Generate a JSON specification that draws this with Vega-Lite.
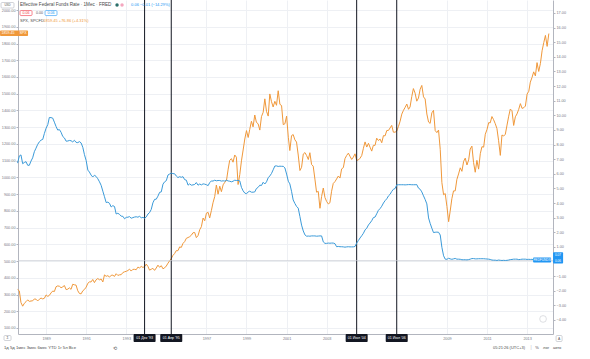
{
"$schema":"https://vega.github.io/schema/vega-lite/v6.json",
"width":535,"height":334,
"autosize":"none",
"padding":{"left":18,"top":0,"right":37,"bottom":25},
"background":"#ffffff",
"config":{"view":{"stroke":null},"text":{"font":"Liberation Sans"},
"axis":{"labelFont":"Liberation Sans","labelColor":"#787b86","domainColor":"#b2b5be","tickColor":"#b2b5be","gridColor":"#eef0f4"}},
"datasets":{
"m":[
{"d":"1987-08-01","f":6.73,"s":329.8},{"d":"1987-09-01","f":7.22,"s":321.8},{"d":"1987-10-01","f":7.29,"s":251.8},{"d":"1987-11-01","f":6.69,"s":230.3},{"d":"1987-12-01","f":6.77,"s":247.1},
{"d":"1988-01-01","f":6.83,"s":257.1},{"d":"1988-02-01","f":6.58,"s":267.8},{"d":"1988-03-01","f":6.58,"s":258.9},{"d":"1988-04-01","f":6.87,"s":261.3},{"d":"1988-05-01","f":7.09,"s":262.2},{"d":"1988-06-01","f":7.51,"s":273.5},{"d":"1988-07-01","f":7.75,"s":272.0},{"d":"1988-08-01","f":8.01,"s":261.5},{"d":"1988-09-01","f":8.19,"s":271.9},{"d":"1988-10-01","f":8.30,"s":278.9},{"d":"1988-11-01","f":8.35,"s":273.7},{"d":"1988-12-01","f":8.76,"s":277.7},
{"d":"1989-01-01","f":9.12,"s":297.5},{"d":"1989-02-01","f":9.36,"s":288.9},{"d":"1989-03-01","f":9.85,"s":294.9},{"d":"1989-04-01","f":9.84,"s":309.6},{"d":"1989-05-01","f":9.81,"s":320.5},{"d":"1989-06-01","f":9.53,"s":317.9},{"d":"1989-07-01","f":9.24,"s":346.1},{"d":"1989-08-01","f":8.99,"s":351.5},{"d":"1989-09-01","f":9.02,"s":349.2},{"d":"1989-10-01","f":8.84,"s":340.4},{"d":"1989-11-01","f":8.55,"s":346.0},{"d":"1989-12-01","f":8.45,"s":353.4},
{"d":"1990-01-01","f":8.23,"s":329.1},{"d":"1990-02-01","f":8.24,"s":331.9},{"d":"1990-03-01","f":8.28,"s":339.9},{"d":"1990-04-01","f":8.26,"s":330.8},{"d":"1990-05-01","f":8.18,"s":361.2},{"d":"1990-06-01","f":8.29,"s":358.0},{"d":"1990-07-01","f":8.15,"s":356.2},{"d":"1990-08-01","f":8.13,"s":322.6},{"d":"1990-09-01","f":8.20,"s":306.1},{"d":"1990-10-01","f":8.11,"s":304.0},{"d":"1990-11-01","f":7.81,"s":322.2},{"d":"1990-12-01","f":7.31,"s":330.2},
{"d":"1991-01-01","f":6.91,"s":343.9},{"d":"1991-02-01","f":6.25,"s":367.1},{"d":"1991-03-01","f":6.12,"s":375.2},{"d":"1991-04-01","f":5.91,"s":375.3},{"d":"1991-05-01","f":5.78,"s":389.8},{"d":"1991-06-01","f":5.90,"s":371.2},{"d":"1991-07-01","f":5.82,"s":387.8},{"d":"1991-08-01","f":5.66,"s":395.4},{"d":"1991-09-01","f":5.45,"s":387.9},{"d":"1991-10-01","f":5.21,"s":392.5},{"d":"1991-11-01","f":4.81,"s":375.2},{"d":"1991-12-01","f":4.43,"s":417.1},
{"d":"1992-01-01","f":4.03,"s":408.8},{"d":"1992-02-01","f":4.06,"s":412.7},{"d":"1992-03-01","f":3.98,"s":403.7},{"d":"1992-04-01","f":3.73,"s":414.9},{"d":"1992-05-01","f":3.82,"s":415.4},{"d":"1992-06-01","f":3.76,"s":408.1},{"d":"1992-07-01","f":3.25,"s":424.2},{"d":"1992-08-01","f":3.30,"s":414.0},{"d":"1992-09-01","f":3.22,"s":417.8},{"d":"1992-10-01","f":3.10,"s":418.7},{"d":"1992-11-01","f":3.09,"s":431.4},{"d":"1992-12-01","f":2.92,"s":435.7},
{"d":"1993-01-01","f":3.02,"s":438.8},{"d":"1993-02-01","f":3.03,"s":443.4},{"d":"1993-03-01","f":3.07,"s":451.7},{"d":"1993-04-01","f":2.96,"s":440.2},{"d":"1993-05-01","f":3.00,"s":450.2},{"d":"1993-06-01","f":3.04,"s":450.5},{"d":"1993-07-01","f":3.06,"s":448.1},{"d":"1993-08-01","f":3.03,"s":463.6},{"d":"1993-09-01","f":3.09,"s":458.9},{"d":"1993-10-01","f":2.99,"s":467.8},{"d":"1993-11-01","f":3.02,"s":461.8},{"d":"1993-12-01","f":2.96,"s":466.5},
{"d":"1994-01-01","f":3.05,"s":481.6},{"d":"1994-02-01","f":3.25,"s":467.1},{"d":"1994-03-01","f":3.34,"s":445.8},{"d":"1994-04-01","f":3.56,"s":450.9},{"d":"1994-05-01","f":4.01,"s":456.5},{"d":"1994-06-01","f":4.25,"s":444.3},{"d":"1994-07-01","f":4.26,"s":458.3},{"d":"1994-08-01","f":4.47,"s":475.5},{"d":"1994-09-01","f":4.73,"s":462.7},{"d":"1994-10-01","f":4.76,"s":472.4},{"d":"1994-11-01","f":5.29,"s":453.7},{"d":"1994-12-01","f":5.45,"s":459.3},
{"d":"1995-01-01","f":5.53,"s":470.4},{"d":"1995-02-01","f":5.92,"s":487.4},{"d":"1995-03-01","f":5.98,"s":500.7},{"d":"1995-04-01","f":6.05,"s":514.7},{"d":"1995-05-01","f":6.01,"s":533.4},{"d":"1995-06-01","f":6.00,"s":544.8},{"d":"1995-07-01","f":5.85,"s":562.1},{"d":"1995-08-01","f":5.74,"s":561.9},{"d":"1995-09-01","f":5.80,"s":584.4},{"d":"1995-10-01","f":5.76,"s":581.5},{"d":"1995-11-01","f":5.80,"s":605.4},{"d":"1995-12-01","f":5.60,"s":615.9},
{"d":"1996-01-01","f":5.56,"s":636.0},{"d":"1996-02-01","f":5.22,"s":640.4},{"d":"1996-03-01","f":5.31,"s":645.5},{"d":"1996-04-01","f":5.22,"s":654.2},{"d":"1996-05-01","f":5.24,"s":669.1},{"d":"1996-06-01","f":5.27,"s":670.6},{"d":"1996-07-01","f":5.40,"s":639.9},{"d":"1996-08-01","f":5.22,"s":652.0},{"d":"1996-09-01","f":5.30,"s":687.3},{"d":"1996-10-01","f":5.24,"s":705.3},{"d":"1996-11-01","f":5.31,"s":757.0},{"d":"1996-12-01","f":5.29,"s":740.7},
{"d":"1997-01-01","f":5.25,"s":786.2},{"d":"1997-02-01","f":5.19,"s":790.8},{"d":"1997-03-01","f":5.39,"s":757.1},{"d":"1997-04-01","f":5.51,"s":801.3},{"d":"1997-05-01","f":5.50,"s":848.3},{"d":"1997-06-01","f":5.56,"s":885.1},{"d":"1997-07-01","f":5.52,"s":954.3},{"d":"1997-08-01","f":5.54,"s":899.5},{"d":"1997-09-01","f":5.54,"s":947.3},{"d":"1997-10-01","f":5.50,"s":914.6},{"d":"1997-11-01","f":5.52,"s":955.4},{"d":"1997-12-01","f":5.50,"s":970.4},
{"d":"1998-01-01","f":5.56,"s":980.3},{"d":"1998-02-01","f":5.51,"s":1049.3},{"d":"1998-03-01","f":5.49,"s":1101.8},{"d":"1998-04-01","f":5.45,"s":1111.8},{"d":"1998-05-01","f":5.49,"s":1090.8},{"d":"1998-06-01","f":5.56,"s":1133.8},{"d":"1998-07-01","f":5.54,"s":1120.7},{"d":"1998-08-01","f":5.55,"s":957.3},{"d":"1998-09-01","f":5.51,"s":1017.0},{"d":"1998-10-01","f":5.07,"s":1098.7},{"d":"1998-11-01","f":4.83,"s":1163.6},{"d":"1998-12-01","f":4.68,"s":1229.2},
{"d":"1999-01-01","f":4.63,"s":1279.6},{"d":"1999-02-01","f":4.76,"s":1238.3},{"d":"1999-03-01","f":4.81,"s":1286.4},{"d":"1999-04-01","f":4.74,"s":1335.2},{"d":"1999-05-01","f":4.74,"s":1301.8},{"d":"1999-06-01","f":4.76,"s":1372.7},{"d":"1999-07-01","f":4.99,"s":1328.7},{"d":"1999-08-01","f":5.07,"s":1320.4},{"d":"1999-09-01","f":5.22,"s":1282.7},{"d":"1999-10-01","f":5.20,"s":1362.9},{"d":"1999-11-01","f":5.42,"s":1388.9},{"d":"1999-12-01","f":5.30,"s":1469.3},
{"d":"2000-01-01","f":5.45,"s":1394.5},{"d":"2000-02-01","f":5.73,"s":1366.4},{"d":"2000-03-01","f":5.85,"s":1498.6},{"d":"2000-04-01","f":6.02,"s":1452.4},{"d":"2000-05-01","f":6.27,"s":1420.6},{"d":"2000-06-01","f":6.53,"s":1454.6},{"d":"2000-07-01","f":6.54,"s":1430.8},{"d":"2000-08-01","f":6.50,"s":1517.7},{"d":"2000-09-01","f":6.52,"s":1436.5},{"d":"2000-10-01","f":6.51,"s":1429.4},{"d":"2000-11-01","f":6.51,"s":1315.2},{"d":"2000-12-01","f":6.40,"s":1320.3},
{"d":"2001-01-01","f":5.98,"s":1366.0},{"d":"2001-02-01","f":5.49,"s":1239.9},{"d":"2001-03-01","f":5.31,"s":1160.3},{"d":"2001-04-01","f":4.80,"s":1249.5},{"d":"2001-05-01","f":4.21,"s":1255.8},{"d":"2001-06-01","f":3.97,"s":1224.4},{"d":"2001-07-01","f":3.77,"s":1211.2},{"d":"2001-08-01","f":3.65,"s":1133.6},{"d":"2001-09-01","f":3.07,"s":1040.9},{"d":"2001-10-01","f":2.49,"s":1059.8},{"d":"2001-11-01","f":2.09,"s":1139.5},{"d":"2001-12-01","f":1.82,"s":1148.1},
{"d":"2002-01-01","f":1.73,"s":1130.2},{"d":"2002-02-01","f":1.74,"s":1106.7},{"d":"2002-03-01","f":1.73,"s":1147.4},{"d":"2002-04-01","f":1.75,"s":1076.9},{"d":"2002-05-01","f":1.75,"s":1067.1},{"d":"2002-06-01","f":1.75,"s":989.8},{"d":"2002-07-01","f":1.73,"s":911.6},{"d":"2002-08-01","f":1.74,"s":916.1},{"d":"2002-09-01","f":1.75,"s":815.3},{"d":"2002-10-01","f":1.75,"s":885.8},{"d":"2002-11-01","f":1.34,"s":936.3},{"d":"2002-12-01","f":1.24,"s":879.8},
{"d":"2003-01-01","f":1.24,"s":855.7},{"d":"2003-02-01","f":1.26,"s":841.2},{"d":"2003-03-01","f":1.25,"s":848.2},{"d":"2003-04-01","f":1.26,"s":916.9},{"d":"2003-05-01","f":1.26,"s":963.6},{"d":"2003-06-01","f":1.22,"s":974.5},{"d":"2003-07-01","f":1.01,"s":990.3},{"d":"2003-08-01","f":1.03,"s":1008.0},{"d":"2003-09-01","f":1.01,"s":996.0},{"d":"2003-10-01","f":1.01,"s":1050.7},{"d":"2003-11-01","f":1.00,"s":1058.2},{"d":"2003-12-01","f":0.98,"s":1111.9},
{"d":"2004-01-01","f":1.00,"s":1131.1},{"d":"2004-02-01","f":1.01,"s":1144.9},{"d":"2004-03-01","f":1.00,"s":1126.2},{"d":"2004-04-01","f":1.00,"s":1107.3},{"d":"2004-05-01","f":1.00,"s":1120.7},{"d":"2004-06-01","f":1.03,"s":1140.8},{"d":"2004-07-01","f":1.26,"s":1101.7},{"d":"2004-08-01","f":1.43,"s":1104.2},{"d":"2004-09-01","f":1.61,"s":1114.6},{"d":"2004-10-01","f":1.76,"s":1130.2},{"d":"2004-11-01","f":1.93,"s":1173.8},{"d":"2004-12-01","f":2.16,"s":1211.9},
{"d":"2005-01-01","f":2.28,"s":1181.3},{"d":"2005-02-01","f":2.50,"s":1203.6},{"d":"2005-03-01","f":2.63,"s":1180.6},{"d":"2005-04-01","f":2.79,"s":1156.9},{"d":"2005-05-01","f":3.00,"s":1191.5},{"d":"2005-06-01","f":3.04,"s":1191.3},{"d":"2005-07-01","f":3.26,"s":1234.2},{"d":"2005-08-01","f":3.50,"s":1220.3},{"d":"2005-09-01","f":3.62,"s":1228.8},{"d":"2005-10-01","f":3.78,"s":1207.0},{"d":"2005-11-01","f":4.00,"s":1249.5},{"d":"2005-12-01","f":4.16,"s":1248.3},
{"d":"2006-01-01","f":4.29,"s":1280.1},{"d":"2006-02-01","f":4.49,"s":1280.7},{"d":"2006-03-01","f":4.59,"s":1294.9},{"d":"2006-04-01","f":4.79,"s":1310.6},{"d":"2006-05-01","f":4.94,"s":1270.1},{"d":"2006-06-01","f":4.99,"s":1270.2},{"d":"2006-07-01","f":5.24,"s":1276.7},{"d":"2006-08-01","f":5.25,"s":1303.8},{"d":"2006-09-01","f":5.25,"s":1335.9},{"d":"2006-10-01","f":5.25,"s":1377.9},{"d":"2006-11-01","f":5.25,"s":1400.6},{"d":"2006-12-01","f":5.24,"s":1418.3},
{"d":"2007-01-01","f":5.25,"s":1438.2},{"d":"2007-02-01","f":5.26,"s":1406.8},{"d":"2007-03-01","f":5.26,"s":1420.9},{"d":"2007-04-01","f":5.25,"s":1482.4},{"d":"2007-05-01","f":5.25,"s":1530.6},{"d":"2007-06-01","f":5.25,"s":1503.4},{"d":"2007-07-01","f":5.26,"s":1455.3},{"d":"2007-08-01","f":5.02,"s":1474.0},{"d":"2007-09-01","f":4.94,"s":1526.8},{"d":"2007-10-01","f":4.76,"s":1549.4},{"d":"2007-11-01","f":4.49,"s":1481.1},{"d":"2007-12-01","f":4.24,"s":1468.4},
{"d":"2008-01-01","f":3.94,"s":1378.6},{"d":"2008-02-01","f":2.98,"s":1330.6},{"d":"2008-03-01","f":2.61,"s":1322.7},{"d":"2008-04-01","f":2.28,"s":1385.6},{"d":"2008-05-01","f":1.98,"s":1400.4},{"d":"2008-06-01","f":2.00,"s":1280.0},{"d":"2008-07-01","f":2.01,"s":1267.4},{"d":"2008-08-01","f":2.00,"s":1282.8},{"d":"2008-09-01","f":1.81,"s":1166.4},{"d":"2008-10-01","f":0.97,"s":968.8},{"d":"2008-11-01","f":0.39,"s":896.2},{"d":"2008-12-01","f":0.16,"s":903.3},
{"d":"2009-01-01","f":0.15,"s":825.9},{"d":"2009-02-01","f":0.22,"s":735.1},{"d":"2009-03-01","f":0.18,"s":797.9},{"d":"2009-04-01","f":0.15,"s":872.8},{"d":"2009-05-01","f":0.18,"s":919.1},{"d":"2009-06-01","f":0.21,"s":919.3},{"d":"2009-07-01","f":0.16,"s":987.5},{"d":"2009-08-01","f":0.16,"s":1020.6},{"d":"2009-09-01","f":0.15,"s":1057.1},{"d":"2009-10-01","f":0.12,"s":1036.2},{"d":"2009-11-01","f":0.12,"s":1095.6},{"d":"2009-12-01","f":0.12,"s":1115.1},
{"d":"2010-01-01","f":0.11,"s":1073.9},{"d":"2010-02-01","f":0.13,"s":1104.5},{"d":"2010-03-01","f":0.16,"s":1169.4},{"d":"2010-04-01","f":0.20,"s":1186.7},{"d":"2010-05-01","f":0.20,"s":1089.4},{"d":"2010-06-01","f":0.18,"s":1030.7},{"d":"2010-07-01","f":0.18,"s":1101.6},{"d":"2010-08-01","f":0.19,"s":1049.3},{"d":"2010-09-01","f":0.19,"s":1141.2},{"d":"2010-10-01","f":0.19,"s":1183.3},{"d":"2010-11-01","f":0.19,"s":1180.6},{"d":"2010-12-01","f":0.18,"s":1257.6},
{"d":"2011-01-01","f":0.17,"s":1286.1},{"d":"2011-02-01","f":0.16,"s":1327.2},{"d":"2011-03-01","f":0.14,"s":1325.8},{"d":"2011-04-01","f":0.10,"s":1363.6},{"d":"2011-05-01","f":0.09,"s":1345.2},{"d":"2011-06-01","f":0.09,"s":1320.6},{"d":"2011-07-01","f":0.07,"s":1292.3},{"d":"2011-08-01","f":0.10,"s":1218.9},{"d":"2011-09-01","f":0.08,"s":1131.4},{"d":"2011-10-01","f":0.07,"s":1253.3},{"d":"2011-11-01","f":0.08,"s":1247.0},{"d":"2011-12-01","f":0.07,"s":1257.6},
{"d":"2012-01-01","f":0.08,"s":1312.4},{"d":"2012-02-01","f":0.10,"s":1365.7},{"d":"2012-03-01","f":0.13,"s":1408.5},{"d":"2012-04-01","f":0.14,"s":1397.9},{"d":"2012-05-01","f":0.16,"s":1310.3},{"d":"2012-06-01","f":0.16,"s":1362.2},{"d":"2012-07-01","f":0.16,"s":1379.3},{"d":"2012-08-01","f":0.13,"s":1406.6},{"d":"2012-09-01","f":0.14,"s":1440.7},{"d":"2012-10-01","f":0.16,"s":1412.2},{"d":"2012-11-01","f":0.16,"s":1416.2},{"d":"2012-12-01","f":0.16,"s":1426.2},
{"d":"2013-01-01","f":0.14,"s":1498.1},{"d":"2013-02-01","f":0.15,"s":1514.7},{"d":"2013-03-01","f":0.14,"s":1569.2},{"d":"2013-04-01","f":0.15,"s":1597.6},{"d":"2013-05-01","f":0.11,"s":1630.7},{"d":"2013-06-01","f":0.09,"s":1606.3},{"d":"2013-07-01","f":0.09,"s":1685.7},{"d":"2013-08-01","f":0.08,"s":1633.0},{"d":"2013-09-01","f":0.08,"s":1681.6},{"d":"2013-10-01","f":0.09,"s":1756.5},{"d":"2013-11-01","f":0.08,"s":1805.8},{"d":"2013-12-01","f":0.09,"s":1848.4},
{"d":"2014-01-01","f":0.07,"s":1782.6},{"d":"2014-02-01","f":0.06,"s":1859.45}
],
"v":[{"d":"1993-12-01","t":"01 Дек '93"},{"d":"1995-04-01","t":"01 Апр '95"},{"d":"2004-07-01","t":"01 Июл '04"},{"d":"2006-07-01","t":"01 Июл '06"}]
},
"layer":[
{"resolve":{"axis":{"x":"independent","y":"independent"}},
 "layer":[
{"data":{"name":"m"},"mark":{"type":"line","color":"#f0983a","strokeWidth":1},
 "encoding":{
  "x":{"field":"d","type":"temporal","title":null,"scale":{"domain":[{"year":1987,"month":8,"date":8},{"year":2014,"month":4,"date":18}],"nice":false},
   "axis":{"orient":"bottom","values":[{"year":1989,"month":1,"date":1},{"year":1991,"month":1,"date":1},{"year":1993,"month":1,"date":1},{"year":1997,"month":1,"date":1},{"year":1999,"month":1,"date":1},{"year":2001,"month":1,"date":1},{"year":2003,"month":1,"date":1},{"year":2009,"month":1,"date":1},{"year":2011,"month":1,"date":1},{"year":2013,"month":1,"date":1}],"format":"%Y","labelFontSize":3.8,"tickSize":0,"labelPadding":2,"grid":true,"title":null}},
  "y":{"field":"s","type":"quantitative","title":null,"scale":{"domain":[64,2060],"nice":false,"zero":false},
   "axis":{"orient":"left","values":[100,200,300,400,500,600,700,800,900,1000,1100,1200,1300,1400,1500,1600,1700,1800,1900,2000],"format":".2f","labelFontSize":3.8,"tickSize":2,"labelPadding":1,"grid":true,"title":null}}}},
{"data":{"name":"v"},"mark":{"type":"rule","color":"#131722","strokeWidth":1},
 "encoding":{"x":{"field":"d","type":"temporal","axis":null}}},
{"data":{"name":"v"},"mark":{"type":"rect","color":"#131722","xOffset":-11,"x2Offset":11,"cornerRadius":1},
 "encoding":{"x":{"field":"d","type":"temporal","axis":null},"x2":{"field":"d"},"y":{"datum":64,"type":"quantitative","axis":null},"y2":{"datum":16}}},
{"data":{"name":"v"},"mark":{"type":"text","color":"#ffffff","fontSize":3.6,"baseline":"middle"},
 "encoding":{"x":{"field":"d","type":"temporal","axis":null},"y":{"datum":38,"type":"quantitative","axis":null},"text":{"field":"t"}}},
{"data":{"values":[{}]},"mark":{"type":"rect","fill":"#ffffff","stroke":"#b2b5be","strokeWidth":0.6,"cornerRadius":1},
 "encoding":{"x":{"datum":{"year":1986,"month":10,"date":3},"type":"temporal","axis":null},"x2":{"datum":{"year":1987,"month":5,"date":27}},"y":{"datum":2045,"type":"quantitative","axis":null},"y2":{"datum":2012}}},
{"data":{"values":[{}]},"mark":{"type":"text","text":"USD","color":"#555555","fontSize":3,"baseline":"middle"},
 "encoding":{"x":{"datum":{"year":1987,"month":1,"date":30},"type":"temporal","axis":null},"y":{"datum":2029,"type":"quantitative","axis":null}}},
{"data":{"values":[{}]},"mark":{"type":"text","text":"Effective Federal Funds Rate · 1Мес · FRED","color":"#4a4a4a","fontSize":4.6,"align":"left","baseline":"middle"},
 "encoding":{"x":{"datum":{"year":1987,"month":9,"date":14},"type":"temporal","axis":null},"y":{"datum":2030,"type":"quantitative","axis":null}}},
{"data":{"values":[{}]},"mark":{"type":"point","filled":true,"color":"#2b6f6a","size":12,"opacity":1},
 "encoding":{"x":{"datum":{"year":1992,"month":7,"date":17},"type":"temporal","axis":null},"y":{"datum":2030,"type":"quantitative","axis":null}}},
{"data":{"values":[{}]},"mark":{"type":"point","filled":true,"color":"#f4a6bf","size":12,"opacity":1},
 "encoding":{"x":{"datum":{"year":1992,"month":10,"date":16},"type":"temporal","axis":null},"y":{"datum":2030,"type":"quantitative","axis":null}}},
{"data":{"values":[{}]},"mark":{"type":"text","text":"0.06  −0.01 (−14.29%)","color":"#2196f3","fontSize":4,"align":"left","baseline":"middle"},
 "encoding":{"x":{"datum":{"year":1993,"month":3,"date":30},"type":"temporal","axis":null},"y":{"datum":2030,"type":"quantitative","axis":null}}},
{"data":{"values":[{}]},"mark":{"type":"rect","fill":"#ffffff","stroke":"#f23645","strokeWidth":0.6,"cornerRadius":1},
 "encoding":{"x":{"datum":{"year":1987,"month":9,"date":14},"type":"temporal","axis":null},"x2":{"datum":{"year":1988,"month":4,"date":20}},"y":{"datum":1997,"type":"quantitative","axis":null},"y2":{"datum":1967}}},
{"data":{"values":[{}]},"mark":{"type":"text","text":"0.06","color":"#f23645","fontSize":3.6,"baseline":"middle"},
 "encoding":{"x":{"datum":{"year":1988,"month":1,"date":1},"type":"temporal","axis":null},"y":{"datum":1982,"type":"quantitative","axis":null}}},
{"data":{"values":[{}]},"mark":{"type":"text","text":"0.00","color":"#555555","fontSize":3.6,"baseline":"middle"},
 "encoding":{"x":{"datum":{"year":1988,"month":9,"date":4},"type":"temporal","axis":null},"y":{"datum":1982,"type":"quantitative","axis":null}}},
{"data":{"values":[{}]},"mark":{"type":"rect","fill":"#ffffff","stroke":"#2196f3","strokeWidth":0.6,"cornerRadius":1},
 "encoding":{"x":{"datum":{"year":1988,"month":12,"date":13},"type":"temporal","axis":null},"x2":{"datum":{"year":1989,"month":7,"date":19}},"y":{"datum":1997,"type":"quantitative","axis":null},"y2":{"datum":1967}}},
{"data":{"values":[{}]},"mark":{"type":"text","text":"0.06","color":"#2196f3","fontSize":3.6,"baseline":"middle"},
 "encoding":{"x":{"datum":{"year":1989,"month":4,"date":1},"type":"temporal","axis":null},"y":{"datum":1982,"type":"quantitative","axis":null}}},
{"data":{"values":[{}]},"mark":{"type":"text","text":"SPX, SPCFD","color":"#4a4a4a","fontSize":4,"align":"left","baseline":"middle"},
 "encoding":{"x":{"datum":{"year":1987,"month":9,"date":14},"type":"temporal","axis":null},"y":{"datum":1934,"type":"quantitative","axis":null}}},
{"data":{"values":[{}]},"mark":{"type":"text","text":"1859.45  +76.86 (+4.31%)","color":"#f0983a","fontSize":4,"align":"left","baseline":"middle"},
 "encoding":{"x":{"datum":{"year":1988,"month":11,"date":10},"type":"temporal","axis":null},"y":{"datum":1934,"type":"quantitative","axis":null}}},
{"data":{"values":[{}]},"mark":{"type":"rect","fill":"#f0983a","cornerRadius":1},
 "encoding":{"x":{"datum":{"year":1986,"month":9,"date":15},"type":"temporal","axis":null},"x2":{"datum":{"year":1988,"month":2,"date":7}},"y":{"datum":1878,"type":"quantitative","axis":null},"y2":{"datum":1845}}},
{"data":{"values":[{}]},"mark":{"type":"text","text":"1859.45","color":"#ffffff","fontSize":3.6,"baseline":"middle"},
 "encoding":{"x":{"datum":{"year":1987,"month":2,"date":8},"type":"temporal","axis":null},"y":{"datum":1862,"type":"quantitative","axis":null}}},
{"data":{"values":[{}]},"mark":{"type":"text","text":"SPX","color":"#ffffff","fontSize":3.6,"baseline":"middle"},
 "encoding":{"x":{"datum":{"year":1987,"month":11,"date":7},"type":"temporal","axis":null},"y":{"datum":1862,"type":"quantitative","axis":null}}},
{"data":{"values":[{}]},"mark":{"type":"rect","fill":"#ffffff","stroke":"#b2b5be","strokeWidth":0.6,"cornerRadius":1},
 "encoding":{"x":{"datum":{"year":1986,"month":11,"date":26},"type":"temporal","axis":null},"x2":{"datum":{"year":1987,"month":4,"date":3}},"y":{"datum":55,"type":"quantitative","axis":null},"y2":{"datum":25}}},
{"data":{"values":[{}]},"mark":{"type":"text","text":"Σ","color":"#555555","fontSize":3.4,"baseline":"middle"},
 "encoding":{"x":{"datum":{"year":1987,"month":1,"date":30},"type":"temporal","axis":null},"y":{"datum":40,"type":"quantitative","axis":null}}},
{"data":{"values":[{}]},"mark":{"type":"text","text":"1д    5д    1мес    3мес    6мес    YTD    1г    5л    Все","color":"#4a4a4a","fontSize":4.2,"align":"left","baseline":"middle"},
 "encoding":{"x":{"datum":{"year":1986,"month":11,"date":26},"type":"temporal","axis":null},"y":{"datum":-20,"type":"quantitative","axis":null}}},
{"data":{"values":[{}]},"mark":{"type":"text","text":"⟲","color":"#4a4a4a","fontSize":5,"baseline":"middle"},
 "encoding":{"x":{"datum":{"year":1992,"month":6,"date":1},"type":"temporal","axis":null},"y":{"datum":-20,"type":"quantitative","axis":null}}},
{"data":{"values":[{}]},"mark":{"type":"text","text":"05:21:26 (UTC+3)","color":"#4a4a4a","fontSize":4,"align":"right","baseline":"middle"},
 "encoding":{"x":{"datum":{"year":2012,"month":11,"date":25},"type":"temporal","axis":null},"y":{"datum":-20,"type":"quantitative","axis":null}}},
{"data":{"values":[{}]},"mark":{"type":"text","text":"|","color":"#b2b5be","fontSize":4.5,"baseline":"middle"},
 "encoding":{"x":{"datum":{"year":2013,"month":3,"date":15},"type":"temporal","axis":null},"y":{"datum":-20,"type":"quantitative","axis":null}}},
{"data":{"values":[{}]},"mark":{"type":"text","text":"%","color":"#4a4a4a","fontSize":4,"baseline":"middle"},
 "encoding":{"x":{"datum":{"year":2013,"month":7,"date":2},"type":"temporal","axis":null},"y":{"datum":-20,"type":"quantitative","axis":null}}},
{"data":{"values":[{}]},"mark":{"type":"text","text":"лог","color":"#4a4a4a","fontSize":4,"baseline":"middle"},
 "encoding":{"x":{"datum":{"year":2013,"month":12,"date":13},"type":"temporal","axis":null},"y":{"datum":-20,"type":"quantitative","axis":null}}},
{"data":{"values":[{}]},"mark":{"type":"text","text":"авто","color":"#4a4a4a","fontSize":4,"baseline":"middle"},
 "encoding":{"x":{"datum":{"year":2014,"month":7,"date":1},"type":"temporal","axis":null},"y":{"datum":-20,"type":"quantitative","axis":null}}},
{"data":{"values":[{}]},"mark":{"type":"rect","fill":"#ffffff","stroke":"#b2b5be","strokeWidth":0.6,"cornerRadius":1},
 "encoding":{"x":{"datum":{"year":2014,"month":6,"date":13},"type":"temporal","axis":null},"x2":{"datum":{"year":2014,"month":10,"date":1}},"y":{"datum":55,"type":"quantitative","axis":null},"y2":{"datum":19}}},
{"data":{"values":[{}]},"mark":{"type":"text","text":"A","color":"#555555","fontSize":3.4,"baseline":"middle"},
 "encoding":{"x":{"datum":{"year":2014,"month":8,"date":7},"type":"temporal","axis":null},"y":{"datum":37,"type":"quantitative","axis":null}}},
{"data":{"values":[{}]},"mark":{"type":"point","shape":"circle","filled":false,"stroke":"#b2b5be","strokeWidth":0.6,"fill":"#ffffff","size":45},
 "encoding":{"x":{"datum":{"year":2013,"month":10,"date":19},"type":"temporal","axis":null},"y":{"datum":154,"type":"quantitative","axis":null}}}
]},
{"resolve":{"axis":{"x":"independent","y":"independent"}},
 "layer":[
{"data":{"values":[{}]},"mark":{"type":"rule","color":"#c8ccd4","strokeWidth":0.7},
 "encoding":{"y":{"datum":0.06,"type":"quantitative","axis":null,"scale":{"domain":[-4.959,17.886],"nice":false,"zero":false}}}},
{"data":{"name":"m"},"mark":{"type":"line","color":"#3a9ad9","strokeWidth":1},
 "encoding":{"x":{"field":"d","type":"temporal","axis":null},
  "y":{"field":"f","type":"quantitative","title":null,"scale":{"domain":[-4.959,17.886],"nice":false,"zero":false},
   "axis":{"orient":"right","values":[-4,-3,-2,-1,1,2,3,4,5,6,7,8,9,10,11,12,13,14,15,16,17],"format":".2f","labelFontSize":3.8,"tickSize":2,"labelPadding":1,"grid":false,"title":null}}}},
{"data":{"values":[{}]},"mark":{"type":"rect","fill":"#2196f3","cornerRadius":1},
 "encoding":{"x":{"datum":{"year":2013,"month":4,"date":20},"type":"temporal","axis":null},"x2":{"datum":{"year":2014,"month":3,"date":14}},"y":{"datum":0.273,"type":"quantitative","axis":null},"y2":{"datum":-0.069}}},
{"data":{"values":[{}]},"mark":{"type":"text","text":"FEDFUNDS","color":"#ffffff","fontSize":3.2,"baseline":"middle"},
 "encoding":{"x":{"datum":{"year":2013,"month":10,"date":1},"type":"temporal","axis":null},"y":{"datum":0.102,"type":"quantitative","axis":null}}},
{"data":{"values":[{}]},"mark":{"type":"rect","fill":"#2196f3","cornerRadius":1},
 "encoding":{"x":{"datum":{"year":2014,"month":4,"date":19},"type":"temporal","axis":null},"x2":{"datum":{"year":2014,"month":10,"date":19}},"y":{"datum":0.63,"type":"quantitative","axis":null},"y2":{"datum":-0.14}}},
{"data":{"values":[{}]},"mark":{"type":"text","text":"0.07","color":"#ffffff","fontSize":3.1,"baseline":"middle"},
 "encoding":{"x":{"datum":{"year":2014,"month":7,"date":19},"type":"temporal","axis":null},"y":{"datum":0.43,"type":"quantitative","axis":null}}},
{"data":{"values":[{}]},"mark":{"type":"text","text":"0.06","color":"#ffffff","fontSize":3.1,"baseline":"middle"},
 "encoding":{"x":{"datum":{"year":2014,"month":7,"date":19},"type":"temporal","axis":null},"y":{"datum":0.05,"type":"quantitative","axis":null}}}
]}
],
"resolve":{"scale":{"y":"independent"},"axis":{"x":"independent"}}
}
